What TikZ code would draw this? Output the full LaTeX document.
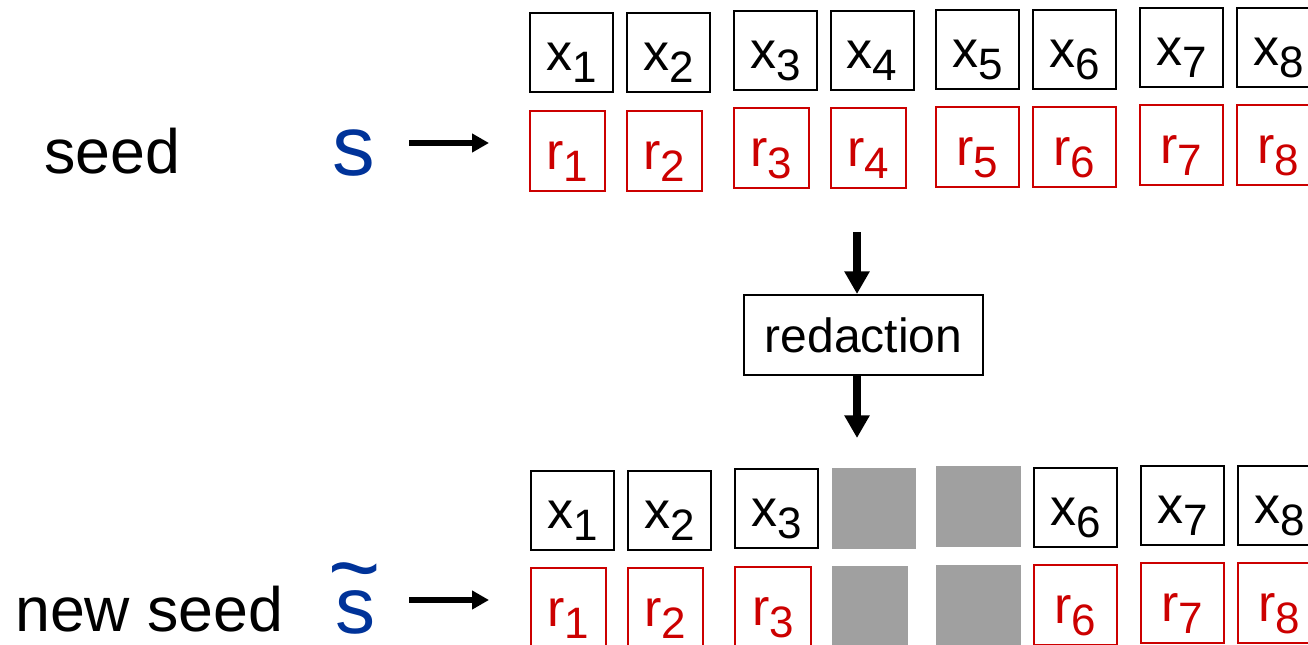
\documentclass[tikz,border=0pt]{standalone}
\usepackage{fontspec}
\setmainfont{Liberation Sans}
\usetikzlibrary{arrows.meta}
\definecolor{myred}{HTML}{CC0000}
\definecolor{myblue}{HTML}{003399}
\definecolor{mygray}{HTML}{A0A0A0}
\newcommand\sbs[1]{\raisebox{-9pt}{\fontsize{33pt}{33pt}\selectfont #1}}
\newcommand\wtil[1]{\ooalign{#1\cr\hidewidth\raisebox{0.41em}{\scalebox{1.12}[1.2]{\textasciitilde}}\hidewidth\cr}}
\tikzset{
  cell/.style={draw, line width=1.5pt, inner sep=0pt, minimum height=59.25pt,
    font=\fontsize{39pt}{39pt}\selectfont, text height=30.5pt, text depth=3.25pt},
  xcell/.style={cell, draw=black, minimum width=62.25pt},
  rcell/.style={cell, draw=myred, text=myred, minimum width=56.25pt, minimum height=60pt},
  rwcell/.style={rcell, minimum width=62.25pt},
  gcell/.style={fill=mygray, draw=none, inner sep=0pt, minimum width=63pt, minimum height=60.75pt},
  grcell/.style={gcell, minimum width=57pt, minimum height=60pt},
  lbl/.style={anchor=base west, inner sep=0pt, font=\fontsize{47pt}{47pt}\selectfont},
  seedsym/.style={anchor=base, inner sep=0pt, text=myblue},
  procbox/.style={draw, line width=1.5pt, inner sep=0pt, minimum width=179.25pt, minimum height=60pt,
    font=\fontsize{36pt}{36pt}\selectfont},
  varrow/.style={line width=6pt, -{Triangle[width=18pt,length=17pt]}},
  harrow/.style={line width=5pt, -{Triangle[width=13.5pt,length=12.75pt]}},
}
\begin{document}
\begin{tikzpicture}[x=0.75pt,y=-0.75pt]
\useasboundingbox (0,0) rectangle (1308,645);
% top rows
\node[xcell] (tx1) at (571.5,52.5) {x\sbs{1}};
\node[xcell] (tx2) at (668.5,52.5) {x\sbs{2}};
\node[xcell] (tx3) at (775.5,50.5) {x\sbs{3}};
\node[xcell] (tx4) at (872,50.5) {x\sbs{4}};
\node[xcell] (tx5) at (977.5,49.5) {x\sbs{5}};
\node[xcell] (tx6) at (1074.5,49.5) {x\sbs{6}};
\node[xcell] (tx7) at (1181.5,47.5) {x\sbs{7}};
\node[xcell] (tx8) at (1278.5,47.5) {x\sbs{8}};
\node[rcell] (tr1) at (567.5,151) {r\sbs{1}};
\node[rcell] (tr2) at (664.5,151) {r\sbs{2}};
\node[rcell] (tr3) at (771.5,148.5) {r\sbs{3}};
\node[rcell] (tr4) at (868.5,148.5) {r\sbs{4}};
\node[rwcell] (tr5) at (977.5,147.5) {r\sbs{5}};
\node[rwcell] (tr6) at (1074.5,147.5) {r\sbs{6}};
\node[rwcell] (tr7) at (1181.5,145.5) {r\sbs{7}};
\node[rwcell] (tr8) at (1278.5,145.5) {r\sbs{8}};
% bottom rows
\node[xcell] (bx1) at (572.5,510.5) {x\sbs{1}};
\node[xcell] (bx2) at (669.5,510.5) {x\sbs{2}};
\node[xcell] (bx3) at (776.5,508.5) {x\sbs{3}};
\node[gcell] (bx4) at (874,508.5) {};
\node[gcell, minimum width=63.75pt] (bx5) at (978.5,506.5) {};
\node[xcell] (bx6) at (1075.5,507) {x\sbs{6}};
\node[xcell] (bx7) at (1182.5,505) {x\sbs{7}};
\node[xcell] (bx8) at (1279.5,505) {x\sbs{8}};
\node[rcell] (br1) at (568.5,608) {r\sbs{1}};
\node[rcell] (br2) at (665.5,608) {r\sbs{2}};
\node[rcell, minimum width=57pt] (br3) at (773,607) {r\sbs{3}};
\node[grcell] (br4) at (870,606) {};
\node[grcell, minimum width=63.75pt] (br5) at (978.5,605) {};
\node[rwcell] (br6) at (1075.5,605) {r\sbs{6}};
\node[rwcell] (br7) at (1182.5,603) {r\sbs{7}};
\node[rwcell] (br8) at (1279.5,603) {r\sbs{8}};
% labels
\node[lbl] (seed) at (44,174) {seed};
\node[lbl] (newseed) at (15,631) {new seed};
\node[seedsym, font=\fontsize{64pt}{64pt}\selectfont] (s) at (353.5,176) {s};
\node[seedsym, font=\fontsize{60pt}{60pt}\selectfont] (st) at (355,633) {\wtil{s}};
% redaction
\node[procbox] (red) at (863.5,335) {redaction};
\coordinate (va) at (857,232);
\coordinate (vb) at (857,438);
\draw[varrow] (va) -- (va |- red.north);
\draw[varrow] (vb |- red.south) -- (vb);
% horizontal arrows
\coordinate (ha1) at (409,143);
\coordinate (hb1) at (489,143);
\coordinate (ha2) at (409,600);
\coordinate (hb2) at (489,600);
\draw[harrow] (ha1) -- (hb1);
\draw[harrow] (ha2) -- (hb2);
\end{tikzpicture}
\end{document}
